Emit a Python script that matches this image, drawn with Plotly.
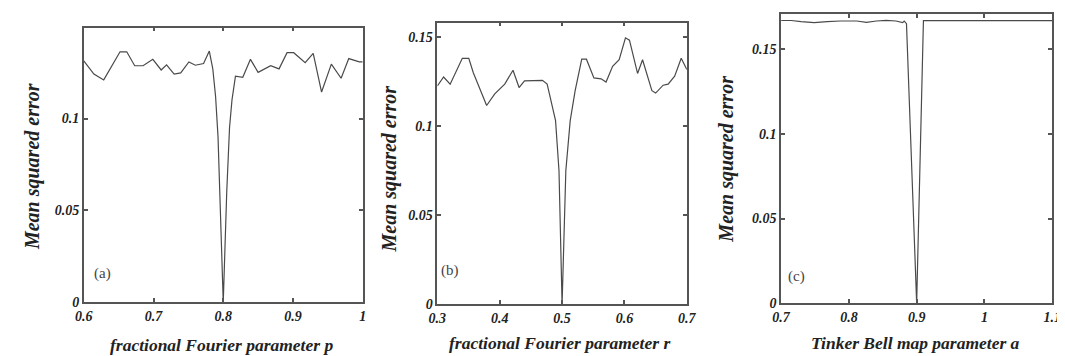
import plotly.graph_objects as go

# ---------------- data ----------------
# (a) fractional Fourier parameter p
pa_x = [0.6, 0.6145, 0.6286, 0.643, 0.652, 0.6616, 0.673, 0.685, 0.699, 0.711, 0.7187,
        0.7296, 0.739, 0.7507, 0.760, 0.7718, 0.780, 0.785, 0.789, 0.7925, 0.796, 0.800,
        0.805, 0.809, 0.8125, 0.8175, 0.828, 0.839, 0.850, 0.868, 0.880, 0.8915, 0.901,
        0.9175, 0.929, 0.941, 0.955, 0.969, 0.980, 0.995, 1.0]
pa_y = [0.1313, 0.1242, 0.1210, 0.1304, 0.1363, 0.1363, 0.1287, 0.1287, 0.1322, 0.1264, 0.1292,
        0.1242, 0.1248, 0.1308, 0.1290, 0.1299, 0.1367, 0.1270, 0.1120, 0.0900, 0.0500, 0.0,
        0.0600, 0.0950, 0.1100, 0.1230, 0.1224, 0.1322, 0.1251, 0.1287, 0.1270, 0.1358, 0.1358,
        0.1304, 0.1354, 0.1144, 0.1296, 0.1219, 0.1326, 0.1308, 0.1308]

# (b) fractional Fourier parameter r
pb_x = [0.3, 0.31, 0.3205, 0.34, 0.3504, 0.3575, 0.379, 0.392, 0.408, 0.4213, 0.431, 0.4397,
        0.4685, 0.476, 0.479, 0.4895, 0.495, 0.5, 0.506, 0.513, 0.521, 0.5315, 0.539, 0.551,
        0.5625, 0.5705, 0.581, 0.5915, 0.6016, 0.608, 0.621, 0.629, 0.644, 0.65, 0.662, 0.67,
        0.6805, 0.691, 0.7]
pb_y = [0.1225, 0.1275, 0.1235, 0.1380, 0.1380, 0.1300, 0.1115, 0.1180, 0.1235, 0.1313, 0.1216, 0.1253,
        0.1256, 0.1235, 0.1190, 0.1030, 0.0750, 0.0, 0.0750, 0.1030, 0.1200, 0.1375, 0.1375, 0.1270,
        0.1265, 0.1247, 0.1335, 0.1372, 0.1495, 0.1482, 0.1295, 0.1372, 0.1198, 0.1185, 0.1229, 0.1235,
        0.1280, 0.1380, 0.1317]

# (c) Tinker Bell map parameter a
pc_x = [0.7, 0.7149, 0.7294, 0.7488, 0.768, 0.7874, 0.8116, 0.826, 0.8406, 0.855, 0.8696,
        0.8793, 0.8816, 0.885, 0.9, 0.91, 1.1]
pc_y = [0.1669, 0.1669, 0.1662, 0.1656, 0.1662, 0.1666, 0.1666, 0.1658, 0.1666, 0.1669, 0.1666,
        0.1656, 0.1665, 0.1650, 0.0, 0.1668, 0.1668]

x_titles = ["fractional Fourier parameter p", "fractional Fourier parameter r",
            "Tinker Bell map parameter a"]
y_title = "Mean squared error"
panel_labels = ["(a)", "(b)", "(c)"]

# ---------------- layout helpers ----------------
W, H = 1065, 356


def fx(px):
    return px / W


def fy(py):
    return 1 - py / H


LINE = "#555555"
TXT = "#222222"
FONT = "Liberation Serif"

fig = go.Figure()
fig.add_trace(go.Scatter(x=pa_x, y=pa_y, mode="lines", line=dict(color="#4a4a4a", width=1.2),
                         xaxis="x", yaxis="y", showlegend=False))
fig.add_trace(go.Scatter(x=pb_x, y=pb_y, mode="lines", line=dict(color="#4a4a4a", width=1.2),
                         xaxis="x2", yaxis="y2", showlegend=False))
fig.add_trace(go.Scatter(x=pc_x, y=pc_y, mode="lines", line=dict(color="#4a4a4a", width=1.2),
                         xaxis="x3", yaxis="y3", showlegend=False))

tickfont = dict(family=FONT, size=14, color=TXT, weight="bold", style="italic")


def ax(domain, rng, dtick, anchor):
    return dict(domain=domain, range=rng, dtick=dtick, tick0=0, anchor=anchor,
                showline=True, linecolor=LINE, linewidth=1.5, mirror="allticks",
                ticks="inside", ticklen=4, tickwidth=1.5, tickcolor=LINE,
                showgrid=False, zeroline=False, tickfont=tickfont,
                ticklabeloverflow="allow")


panels = [
    # plot-area pixel boxes: left, right, top, bottom
    dict(box=(68, 352, 20, 301), xr=[0.6, 1.0], yr=[0, 0.1495]),
    dict(box=(428, 682, 15, 303), xr=[0.3, 0.7], yr=[0, 0.158]),
    dict(box=(778, 1054, 6, 302), xr=[0.7, 1.1], yr=[0, 0.1708]),
]

layout = dict(width=W, height=H, margin=dict(l=0, r=0, t=0, b=0),
              paper_bgcolor="white", plot_bgcolor="white", showlegend=False)
for i, p in enumerate(panels):
    l, r, t, b = p["box"]
    sx = "" if i == 0 else str(i + 1)
    layout["xaxis" + sx] = ax([fx(l), fx(r)], p["xr"], 0.1, "y" + sx)
    layout["yaxis" + sx] = ax([fy(b), fy(t)], p["yr"], 0.05, "x" + sx)

fig.update_layout(**layout)

title_pos = [(208, 345), (552, 343), (915, 343)]
ytitle_pos = [(16, 162), (379, 165), (722, 155)]
label_pos = [(87, 272), (441, 269), (794, 275)]
for i in range(3):
    fig.add_annotation(x=fx(title_pos[i][0]), y=fy(title_pos[i][1]), xref="paper", yref="paper",
                       text=x_titles[i], showarrow=False, xanchor="center", yanchor="middle",
                       font=dict(family=FONT, size=17.5, color=TXT, weight="bold", style="italic"))
    fig.add_annotation(x=fx(ytitle_pos[i][0]), y=fy(ytitle_pos[i][1]), xref="paper", yref="paper",
                       text=y_title, showarrow=False, textangle=-90, xanchor="center", yanchor="middle",
                       font=dict(family=FONT, size=20, color=TXT, weight="bold", style="italic"))
    fig.add_annotation(x=fx(label_pos[i][0]), y=fy(label_pos[i][1]), xref="paper", yref="paper",
                       text=panel_labels[i], showarrow=False, xanchor="center", yanchor="middle",
                       font=dict(family=FONT, size=15, color="#444444"))

fig.write_html("out.html")
